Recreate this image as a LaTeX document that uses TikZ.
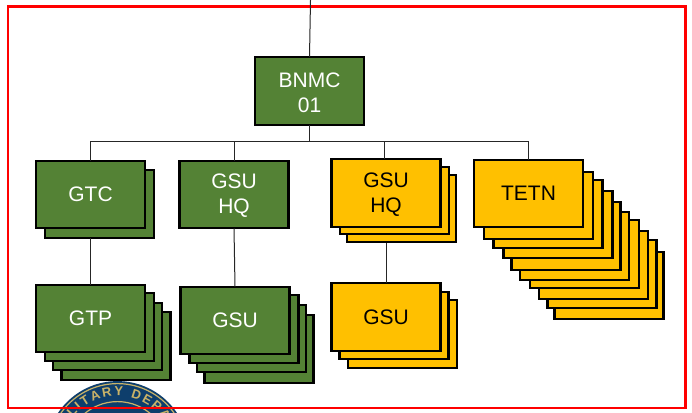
\documentclass[tikz,border=0pt]{standalone}
\usepackage{fontspec}
\setmainfont{Liberation Sans}
\usepackage{xcolor}
\usetikzlibrary{decorations.text}
\definecolor{unitgreen}{RGB}{84,130,53}
\definecolor{unitgold}{RGB}{255,192,0}
\definecolor{framered}{RGB}{255,0,0}
\definecolor{sealblue}{RGB}{14,62,108}
\definecolor{sealgold}{RGB}{200,178,104}
\tikzset{
  unitbox/.style={draw=black, line width=2.2pt, minimum width=109pt, minimum height=67.7pt,
    inner sep=0pt, outer sep=0pt, align=center, font=\fontsize{21}{25}\selectfont},
  greenbox/.style={unitbox, fill=unitgreen, text=white},
  goldbox/.style={unitbox, fill=unitgold, text=black},
  unitlabel/.style={inner sep=0pt, align=center, font=\fontsize{21}{25}\selectfont, yshift=-1.5pt},
  linkline/.style={draw=black!85, line width=1pt}
}
\begin{document}
\begin{tikzpicture}[x=1pt, y=-1pt]
  \useasboundingbox (0,0) rectangle (692,412);
  \begin{scope}
    \clip (0,0) rectangle (692,412);
    % seal at the foot of the page
    \fill[sealblue] (117.5,452.6) circle (71.5);
    \draw[sealgold, line width=1.2pt] (117.5,452.6) circle (69);
    \draw[sealgold, line width=1.2pt] (117.5,452.6) circle (51);
    \path[decorate, decoration={text along path, text align={fit to path},
      text={|\fontsize{13}{13}\selectfont\bfseries\color{sealgold}|ILITARY DEPA}}]
      (69.5,422.6) arc[start angle=212, end angle=326, radius=56.6];
  \end{scope}
  \draw[framered, line width=2.5pt] (8,6.5) rectangle (685.5,408);
  % connectors first, boxes go over them
  \coordinate (topend) at (310.5,0);
  \coordinate (bus) at (309.5,141.5);
  % back sheets of the stacks
  \foreach \dx/\dy in {9/9.5}
    \node[greenbox] at (90.5+\dx,194.5+\dy) {};
  \foreach \dx/\dy in {25.5/27.5, 17/18, 8.7/8.5}
    \node[greenbox] at (90.5+\dx,318.5+\dy) {};
  \foreach \dx/\dy in {24/28.5, 16.5/18, 9/8.5}
    \node[greenbox] at (235+\dx,320.5+\dy) {};
  \foreach \dx/\dy in {15.5/15.5, 8.7/7.5}
    \node[goldbox] at (386+\dx,193+\dy) {};
  \foreach \dx/\dy in {16.5/17, 8/8.5}
    \node[goldbox] at (386+\dx,317+\dy) {};
  \foreach \dx/\dy in {80.4/92, 73.4/80.7, 65/71.7, 55.7/60.7, 46/52.4, 37.4/42.7, 29.4/31, 19.4/20.7, 10/12}
    \node[goldbox] at (528.5+\dx,193.5+\dy) {};
  % front boxes
  \node[greenbox, label={[unitlabel, text=white]center:{BNMC\\01}}] (bnmc) at (309.5,91) {};
  \node[greenbox] (gtc) at (90.5,194.5) {GTC};
  \node[greenbox] (gtp) at (90.5,318.5) {GTP};
  \node[greenbox, label={[unitlabel, text=white]center:{GSU\\HQ}}] (gsuhq) at (234,194.5) {};
  \node[greenbox] (gsu) at (235,320.5) {GSU};
  \node[goldbox, label={[unitlabel, text=black]center:{GSU\\HQ}}] (gsuhqgold) at (386,193) {};
  \node[goldbox] (gsugold) at (386,317) {GSU};
  \node[goldbox] (tetn) at (528.5,193.5) {TETN};
  % tree
  \draw[linkline] (topend) -- (bnmc.north);
  \draw[linkline] (bnmc.south) -- (bus);
  \draw[linkline] (gtc.north) |- (bus) -| (tetn.north);
  \draw[linkline] (gsuhq.north) -- (gsuhq.north |- bus);
  \draw[linkline] ([xshift=-1.5pt]gsuhqgold.north) -- ([xshift=-1.5pt]gsuhqgold.north |- bus);
  \coordinate (gtcfoot) at (90.5,238);
  \coordinate (goldfoot) at (386,243);
  \draw[linkline] (gtcfoot) -- (gtp.north);
  \draw[linkline] (gsuhq.south) -- (gsu.north);
  \draw[linkline] (goldfoot) -- (gsugold.north);
\end{tikzpicture}
\end{document}
